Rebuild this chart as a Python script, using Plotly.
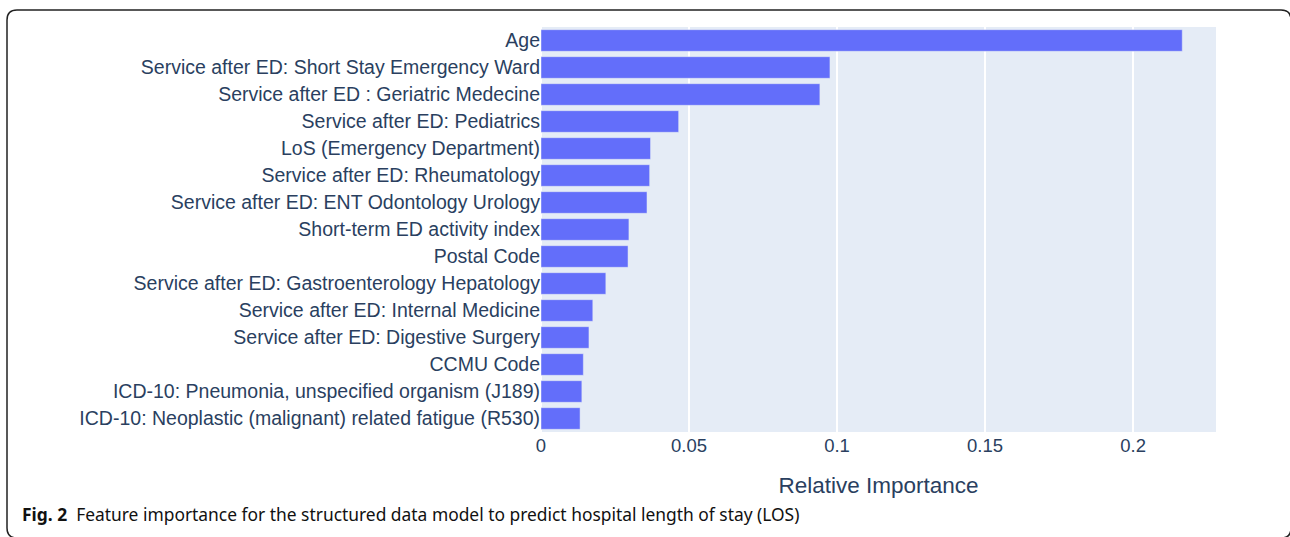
import plotly.graph_objects as go

features = [
    "Age",
    "Service after ED: Short Stay Emergency Ward",
    "Service after ED : Geriatric Medecine",
    "Service after ED: Pediatrics",
    "LoS (Emergency Department)",
    "Service after ED: Rheumatology",
    "Service after ED: ENT Odontology Urology",
    "Short-term ED activity index",
    "Postal Code",
    "Service after ED: Gastroenterology Hepatology",
    "Service after ED: Internal Medicine",
    "Service after ED: Digestive Surgery",
    "CCMU Code",
    "ICD-10: Pneumonia, unspecified organism (J189)",
    "ICD-10: Neoplastic (malignant) related fatigue (R530)",
]
importance = [0.2166, 0.0976, 0.0942, 0.0465, 0.0370, 0.0367, 0.0358,
              0.0297, 0.0294, 0.0219, 0.0175, 0.0162, 0.0143, 0.0138, 0.0132]
tick_vals = [0, 0.05, 0.1, 0.15, 0.2]
tick_text = ["0", "0.05", "0.1", "0.15", "0.2"]

W, H = 1290, 537
ML, MR, MT, MB = 541, 74, 27, 105
PW, PH = W - ML - MR, H - MT - MB
FONT = "Liberation Sans, Arial, Helvetica, sans-serif"


def px(x):
    return (x - ML) / PW


def py(y):
    return 1 - (y - MT) / PH


fig = go.Figure(go.Bar(
    x=importance[::-1], y=features[::-1], orientation="h",
    marker=dict(color="#636efa", line=dict(color="#E5ECF6", width=0.5)),
))

# rounded frame (right and bottom edges fall just outside the picture)
x0, x1, y0, y1, r = 7, 1291, 10, 538, 10
path = (f"M {px(x0+r)},{py(y0)} L {px(x1-r)},{py(y0)} "
        f"Q {px(x1)},{py(y0)} {px(x1)},{py(y0+r)} "
        f"L {px(x1)},{py(y1-r)} Q {px(x1)},{py(y1)} {px(x1-r)},{py(y1)} "
        f"L {px(x0+r)},{py(y1)} Q {px(x0)},{py(y1)} {px(x0)},{py(y1-r)} "
        f"L {px(x0)},{py(y0+r)} Q {px(x0)},{py(y0)} {px(x0+r)},{py(y0)} Z")

fig.update_layout(
    template="plotly",
    width=W, height=H,
    margin=dict(l=ML, r=MR, t=MT, b=MB, autoexpand=False),
    paper_bgcolor="white",
    plot_bgcolor="#E5ECF6",
    showlegend=False,
    bargap=0.2,
    xaxis=dict(
        title=dict(text="Relative Importance", font=dict(family=FONT, size=22.5, color="#2a3f5f"), standoff=22),
        tickfont=dict(family=FONT, size=18.5, color="#2a3f5f"),
        gridcolor="white", gridwidth=2, zeroline=True, zerolinecolor="white", zerolinewidth=2,
        tickvals=tick_vals, ticktext=tick_text,
    ),
    yaxis=dict(
        tickfont=dict(family=FONT, size=19.5, color="#2a3f5f"),
        ticklabelstandoff=0,
    ),
    shapes=[dict(type="path", xref="paper", yref="paper", path=path,
                 line=dict(color="#222222", width=1.5), fillcolor="rgba(0,0,0,0)")],
    annotations=[dict(
        xref="paper", yref="paper", x=px(20), y=py(514), xanchor="left", yanchor="middle",
        showarrow=False,
        text="<b>Fig. 2</b>  Feature importance for the structured data model to predict hospital length of stay (LOS)",
        font=dict(family="Noto Sans", size=17.4, color="#111111"),
    )],
)

fig.write_html("out.html", config={"displayModeBar": False},
               post_script="document.body.style.margin='0';")
